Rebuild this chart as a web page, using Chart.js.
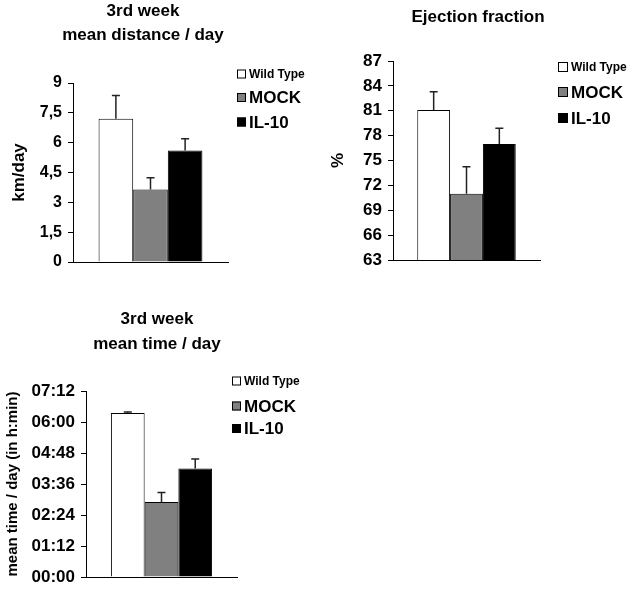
<!DOCTYPE html>
<html>
<head>
<meta charset="utf-8">
<script src="https://cdn.jsdelivr.net/npm/chart.js@4.4.1/dist/chart.umd.min.js"></script>
<style>
  body { margin: 0; background: #fff; }
  canvas { position: absolute; }
</style>
</head>
<body>
<canvas id="distChart" width="320" height="290" style="left:0px;top:0px"></canvas>
<canvas id="efChart" width="311" height="290" style="left:320px;top:0px"></canvas>
<canvas id="timeChart" width="320" height="297" style="left:0px;top:300px"></canvas>
<script>
// gruppi e colori comuni
var groups = ["Wild Type", "MOCK", "IL-10"];
var groupColors = ["#ffffff", "#808080", "#000000"];

// distanza media / giorno (km)
var distValues = [7.2, 3.65, 5.6];
var distErrors = [1.17, 0.58, 0.6];
var distTicks = ["0", "1,5", "3", "4,5", "6", "7,5", "9"];

// frazione di eiezione (%)
var efValues = [81.1, 71.0, 77.0];
var efErrors = [2.2, 3.25, 1.9];
var efTicks = ["63", "66", "69", "72", "75", "78", "81", "84", "87"];

// tempo medio / giorno, in minuti
var timeValues = [381, 174, 252];
var timeErrors = [2, 22, 22];
var timeTicks = ["00:00", "01:12", "02:24", "03:36", "04:48", "06:00", "07:12"];

var FONT = "'Liberation Sans', Arial, sans-serif";
Chart.defaults.font.family = FONT;
Chart.defaults.font.weight = "bold";
Chart.defaults.color = "#000";

// titolo centrato in un punto preciso (il titolo di Chart.js segue il padding)
var centerTitle = {
  id: "centerTitle",
  afterDraw: function (chart, args, opts) {
    var ctx = chart.ctx;
    ctx.save();
    ctx.fillStyle = "#000";
    ctx.font = "bold 17px " + FONT;
    ctx.textAlign = "center";
    ctx.textBaseline = "middle";
    opts.text.forEach(function (line, i) {
      ctx.fillText(line, opts.x, opts.y[i]);
    });
    ctx.restore();
  },
};

// barre di errore (solo verso l'alto, con cappuccio)
var errorBars = {
  id: "errorBars",
  afterDatasetsDraw: function (chart, args, opts) {
    var ctx = chart.ctx;
    var y = chart.scales.y;
    ctx.save();
    ctx.strokeStyle = "#222";
    ctx.lineWidth = 1.5;
    chart.data.datasets.forEach(function (ds, i) {
      var bar = chart.getDatasetMeta(i).data[0];
      var top = y.getPixelForValue(ds.data[0] + opts.errors[i]);
      ctx.beginPath();
      ctx.moveTo(bar.x, bar.y);
      ctx.lineTo(bar.x, top);
      ctx.moveTo(bar.x - 4, top);
      ctx.lineTo(bar.x + 4, top);
      ctx.stroke();
    });
    ctx.restore();
  },
};

// legenda con quadratini, testo di misura diversa
var boxLegend = {
  id: "boxLegend",
  afterDraw: function (chart, args, opts) {
    var ctx = chart.ctx;
    ctx.save();
    chart.data.datasets.forEach(function (ds, i) {
      var yc = opts.y[i];
      var s = opts.box;
      ctx.fillStyle = ds.backgroundColor;
      ctx.fillRect(opts.x, yc - s / 2, s, s);
      ctx.strokeStyle = "#000";
      ctx.lineWidth = 1;
      ctx.strokeRect(opts.x + 0.5, yc - s / 2 + 0.5, s - 1, s - 1);
      ctx.fillStyle = "#000";
      ctx.font = "bold " + opts.sizes[i] + "px " + FONT;
      ctx.textBaseline = "middle";
      ctx.fillText(ds.label, opts.x + s + 3, yc + 1);
    });
    ctx.restore();
  },
};

function makeDatasets(values) {
  return groups.map(function (g, i) {
    return {
      label: g,
      data: [values[i]],
      backgroundColor: groupColors[i],
      borderColor: "#000",
      borderWidth: 1,
      borderSkipped: "bottom",
      categoryPercentage: 0.67,
      barPercentage: 1,
    };
  });
}

function makeChart(id, cfg) {
  return new Chart(id, {
    type: "bar",
    data: { labels: [""], datasets: makeDatasets(cfg.values) },
    plugins: [errorBars, boxLegend, centerTitle],
    options: {
      responsive: false,
      animation: false,
      layout: { padding: cfg.padding },
      plugins: {
        legend: { display: false },
        tooltip: { enabled: false },
        title: { display: false },
        centerTitle: cfg.title,
        errorBars: { errors: cfg.errors },
        boxLegend: cfg.legend,
      },
      scales: {
        x: {
          grid: { display: false },
          border: { display: true, color: "#000", width: 1 },
          ticks: { display: false },
        },
        y: {
          min: cfg.min,
          max: cfg.max,
          afterFit: function (scale) {
            scale.width = cfg.axisWidth;
          },
          ticks: {
            stepSize: cfg.step,
            font: { size: cfg.tickSize, weight: "bold" },
            color: "#000",
            padding: 6,
            callback: function (value, index) {
              return cfg.ticks[index];
            },
          },
          grid: {
            display: true,
            drawOnChartArea: false,
            drawTicks: true,
            tickLength: 5,
            color: "#000",
          },
          border: { display: true, color: "#000", width: 1 },
          title: {
            display: true,
            text: cfg.yTitle,
            font: { size: cfg.yTitleSize, weight: "bold" },
            color: "#000",
            padding: { top: cfg.yTitlePad, bottom: 0 },
          },
        },
      },
    },
  });
}

makeChart("distChart", {
  values: distValues,
  errors: distErrors,
  ticks: distTicks,
  min: 0, max: 9, step: 1.5,
  title: { text: ["3rd week", "mean distance / day"], x: 143, y: [11, 35] },
  padding: { left: 0, right: 92, top: 83, bottom: 20 },
  axisWidth: 73,
  tickSize: 16,
  yTitle: "km/day", yTitleSize: 17, yTitlePad: 9,
  legend: { x: 237, y: [74, 97.5, 122], box: 9, sizes: [12, 17, 17] },
});

makeChart("efChart", {
  values: efValues,
  errors: efErrors,
  ticks: efTicks,
  min: 63, max: 87, step: 3,
  title: { text: ["Ejection fraction"], x: 158, y: [17] },
  padding: { left: 0, right: 91, top: 61, bottom: 22 },
  axisWidth: 73,
  tickSize: 17,
  yTitle: "%", yTitleSize: 17, yTitlePad: 8,
  legend: { x: 238, y: [67, 92, 118], box: 10, sizes: [12, 17, 17] },
});

makeChart("timeChart", {
  values: timeValues,
  errors: timeErrors,
  ticks: timeTicks,
  min: 0, max: 432, step: 72,
  title: { text: ["3rd week", "mean time / day"], x: 157, y: [19, 44] },
  padding: { left: 0, right: 83, top: 91, bottom: 12 },
  axisWidth: 86,
  tickSize: 17,
  yTitle: "mean time / day (in h:min)", yTitleSize: 15, yTitlePad: 4,
  legend: { x: 232, y: [81, 106, 128.5], box: 9, sizes: [12, 17, 17] },
});
</script>
</body>
</html>
